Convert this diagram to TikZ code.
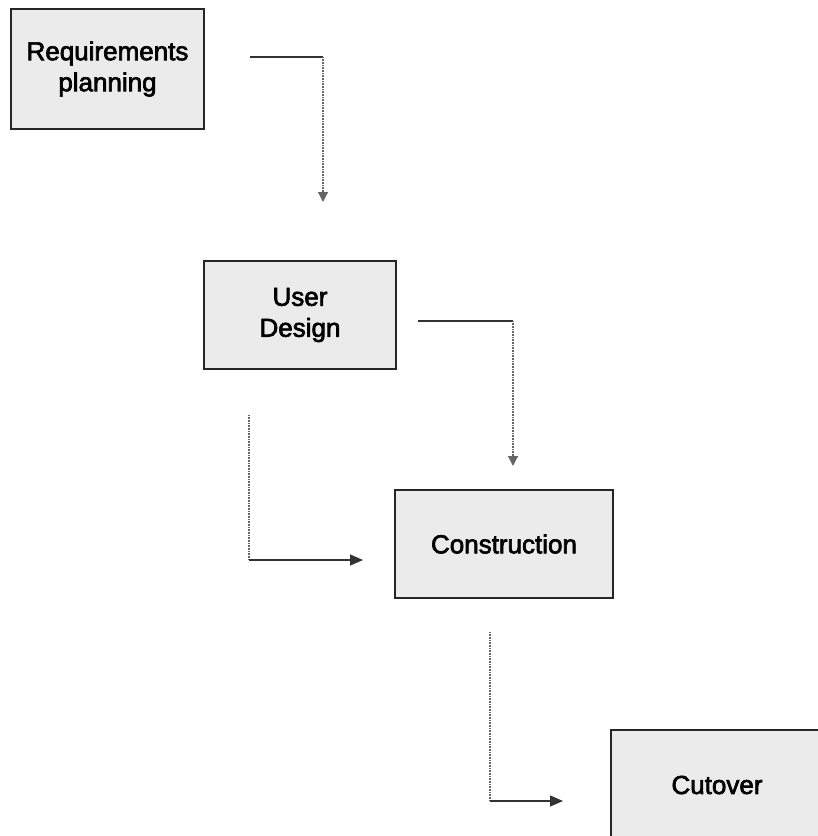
\documentclass[tikz,border=0pt]{standalone}
\usepackage{fontspec}
\setmainfont{Liberation Sans}
\newfontfamily\phasefont{Liberation Sans}[FakeBold=2.5]
\usetikzlibrary{arrows.meta}
\begin{document}
\begin{tikzpicture}[x=1pt,y=-1pt,
  phase/.style={draw=black!85,line width=2pt,fill=black!8,align=center,
    font=\phasefont\fontsize{26}{31}\selectfont,inner sep=0pt,anchor=north west},
  vline/.style={draw=black!60,line width=1.2pt,dash pattern=on 1pt off 0.6pt},
  hline/.style={draw=black!80,line width=1.2pt},
  tipv/.style={-{Triangle[length=10pt,width=10pt]}},
  tiph/.style={-{Triangle[length=13pt,width=11pt]}}]
\useasboundingbox (0,0) rectangle (818,836);
\node[phase,minimum width=193pt,minimum height=120pt] (req) at (10,8) {Requirements\\planning};
\node[phase,minimum width=192pt,minimum height=108pt] (ud) at (203,260) {User\\Design};
\node[phase,minimum width=218pt,minimum height=108pt] (con) at (394,489) {Construction};
\node[phase,minimum width=212pt,minimum height=110pt] (cut) at (610,729) {Cutover};
% connector 1
\coordinate (a1s) at (250,57);
\coordinate (a1c) at (323,57);
\coordinate (a1e) at (323,202);
\draw[hline] (a1s) -- (a1c);
\draw[vline,tipv] (a1c) -- (a1e);
% connector 2
\coordinate (a2s) at (418,321);
\coordinate (a2c) at (513,321);
\coordinate (a2e) at (513,466);
\draw[hline] (a2s) -- (a2c);
\draw[vline,tipv] (a2c) -- (a2e);
% connector 3
\coordinate (a3s) at (249,415);
\coordinate (a3c) at (249,560);
\coordinate (a3e) at (363,560);
\draw[vline] (a3s) -- (a3c);
\draw[hline,tiph] (a3c) -- (a3e);
% connector 4
\coordinate (a4s) at (490,632);
\coordinate (a4c) at (490,801);
\coordinate (a4e) at (563,801);
\draw[vline] (a4s) -- (a4c);
\draw[hline,tiph] (a4c) -- (a4e);
\end{tikzpicture}
\end{document}
